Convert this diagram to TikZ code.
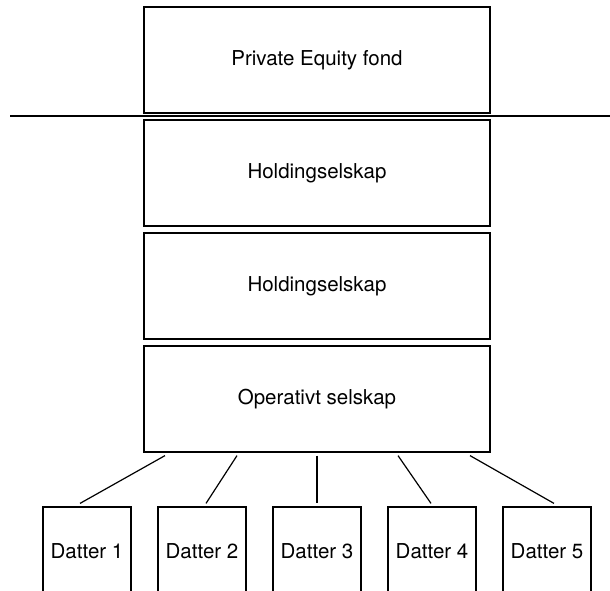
\documentclass[tikz,border=0pt]{standalone}
\usepackage{fontspec}
\setmainfont{TeX Gyre Heros}
\usepackage{tikz}
\usetikzlibrary{positioning}

\tikzset{
    firma/.style={draw, line width=1.2pt, minimum width=346pt, minimum height=106pt, font=\fontsize{20.5}{24}\selectfont},
    datter/.style={draw, line width=1.2pt, minimum width=88pt, minimum height=88pt, font=\fontsize{20.5}{24}\selectfont},
    eierlinje/.style={line width=1.2pt}
}

\begin{document}
\begin{tikzpicture}[x=1pt, y=-1pt]
    % Picture frame
    \useasboundingbox (0, 0) rectangle (610, 591);
    \clip (0, 0) rectangle (610, 591);

    % Fund and company chain
    \node[firma] (fond) at (317, 60) {Private Equity fond};
    \node[firma] (hold1) at (317, 173) {Holdingselskap};
    \node[firma] (hold2) at (317, 286) {Holdingselskap};
    \node[firma] (op) at (317, 399) {Operativt selskap};

    % Separator line
    \coordinate (skille) at (10, 116);
    \draw[eierlinje] (skille) -- (610, 116);

    % Subsidiaries
    \foreach \i/\x in {1/87, 2/202, 3/317, 4/432, 5/547}
        \node[datter] (d\i) at (\x, 551) {Datter \i};

    % Ownership lines
    \foreach \i/\a/\b in {1/-152/-7, 2/-80/4, 3/0/0, 4/81/-1, 5/153/7}
        \draw[eierlinje] ([xshift=\a pt, yshift=-3pt]op.south) -- ([xshift=\b pt, yshift=3pt]d\i.north);
\end{tikzpicture}
\end{document}
